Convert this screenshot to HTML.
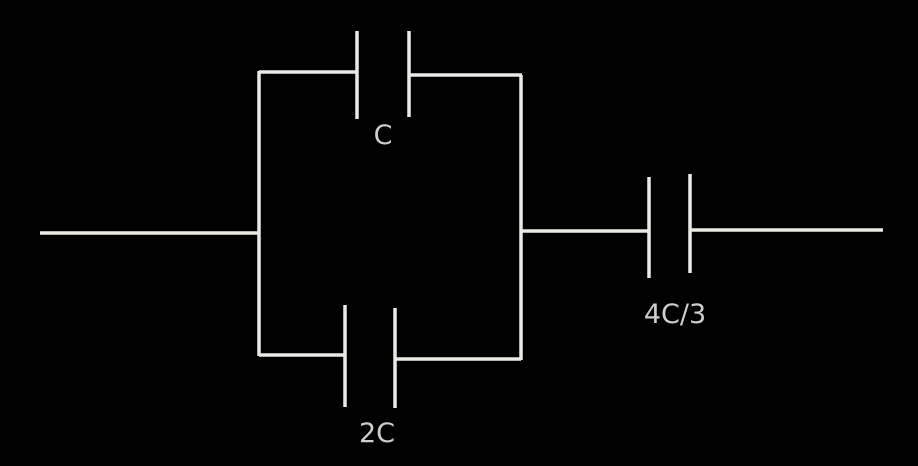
<!DOCTYPE html>
<html><head><meta charset="utf-8"><style>
html,body{margin:0;padding:0;background:#000;width:918px;height:466px;overflow:hidden}
</style></head><body>
<svg width="918" height="466" viewBox="0 0 918 466" xmlns="http://www.w3.org/2000/svg">
<g stroke="#ebe9e4" stroke-width="3.5" fill="none" stroke-linecap="butt">
<line x1="40" y1="233" x2="259" y2="233"/>
<line x1="259" y1="71" x2="259" y2="356"/>
<line x1="259" y1="72" x2="357" y2="72"/>
<line x1="357" y1="31" x2="357" y2="119"/>
<line x1="409" y1="31" x2="409" y2="117"/>
<line x1="409" y1="75" x2="522" y2="75"/>
<line x1="521" y1="75" x2="521" y2="360"/>
<line x1="259" y1="355" x2="345" y2="355"/>
<line x1="345" y1="305" x2="345" y2="407"/>
<line x1="395" y1="308" x2="395" y2="408"/>
<line x1="395" y1="359" x2="521" y2="359"/>
<line x1="521" y1="231" x2="649" y2="231"/>
<line x1="649" y1="177" x2="649" y2="278"/>
<line x1="690" y1="174" x2="690" y2="273"/>
<line x1="690" y1="230" x2="883" y2="230"/>
</g>
<g fill="#cfcdca" font-family="'DejaVu Sans','Liberation Sans',sans-serif" font-size="27">
<text x="383" y="144" text-anchor="middle">C</text>
<text x="377" y="442" text-anchor="middle">2C</text>
<text x="675" y="323" text-anchor="middle">4C/3</text>
</g>
</svg>
</body></html>
